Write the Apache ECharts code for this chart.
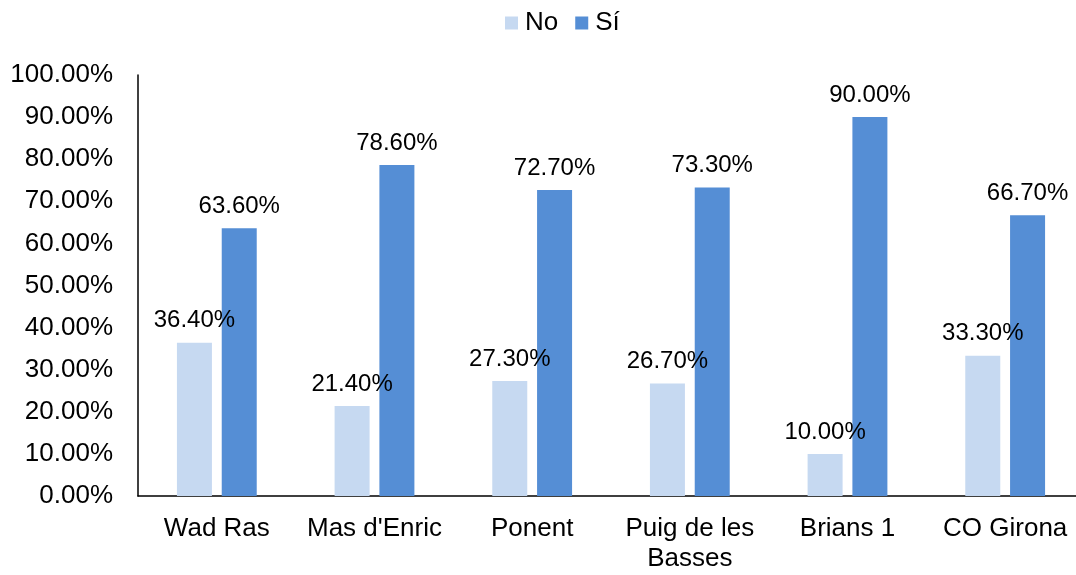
<!DOCTYPE html>
<html>
<head>
    <meta charset="utf-8">
    <title></title>
    <style type="text/css">
        html, body { margin: 0; padding: 0; background: #fff; }
        #main { width: 1076px; height: 575px; }
    </style>
</head>
<body>
    <div id="main"></div>
</body>
<script src="https://cdn.jsdelivr.net/npm/echarts@6/dist/echarts.min.js"></script>
<script type="text/javascript">
    var categories = ['Wad Ras', "Mas d'Enric", 'Ponent', 'Puig de les\nBasses', 'Brians 1', 'CO Girona'];
    var noValues = [36.4, 21.4, 27.3, 26.7, 10.0, 33.3];
    var siValues = [63.6, 78.6, 72.7, 73.3, 90.0, 66.7];

    var font = 'Arial, "Liberation Sans", sans-serif';

    function pct(v) {
        return Number(v).toFixed(2) + '%';
    }

    var labelStyle = {
        show: true,
        position: 'top',
        distance: 10,
        fontFamily: font,
        fontSize: 24,
        color: '#000',
        formatter: function (p) { return pct(p.value); }
    };

    var option = {
        backgroundColor: '#FFFFFF',
        animation: false,
        legend: {
            top: 5,
            left: 500,
            itemWidth: 13,
            itemHeight: 13,
            itemGap: 17,
            icon: 'rect',
            textStyle: { fontFamily: font, fontSize: 26, color: '#000', padding: [0, 0, 0, 2] },
            data: ['No', 'Sí']
        },
        grid: {
            left: 138,
            right: -8,
            top: 75,
            bottom: 79,
            outerBoundsMode: 'none'
        },
        xAxis: {
            type: 'category',
            data: categories,
            axisLine: { lineStyle: { color: '#000', width: 1.5 } },
            axisTick: { show: false },
            axisLabel: {
                interval: 0,
                margin: 18,
                fontFamily: font,
                fontSize: 26,
                color: '#000',
                lineHeight: 30
            }
        },
        yAxis: {
            type: 'value',
            min: 0,
            max: 100,
            interval: 10,
            axisLine: { show: true, lineStyle: { color: '#000', width: 1.5 } },
            axisTick: { show: false },
            splitLine: { show: false },
            axisLabel: {
                margin: 25,
                fontFamily: font,
                fontSize: 26,
                color: '#000',
                formatter: function (v) { return pct(v); }
            }
        },
        series: [{
            name: 'No',
            type: 'bar',
            data: noValues,
            barWidth: 35,
            barGap: '28%',
            itemStyle: { color: '#C6D9F1' },
            label: labelStyle
        }, {
            name: 'Sí',
            type: 'bar',
            data: siValues,
            barWidth: 35,
            itemStyle: { color: '#558ED5' },
            label: labelStyle
        }]
    };

    var myChart = echarts.init(document.getElementById('main'));
    myChart.setOption(option);
</script>
</html>
